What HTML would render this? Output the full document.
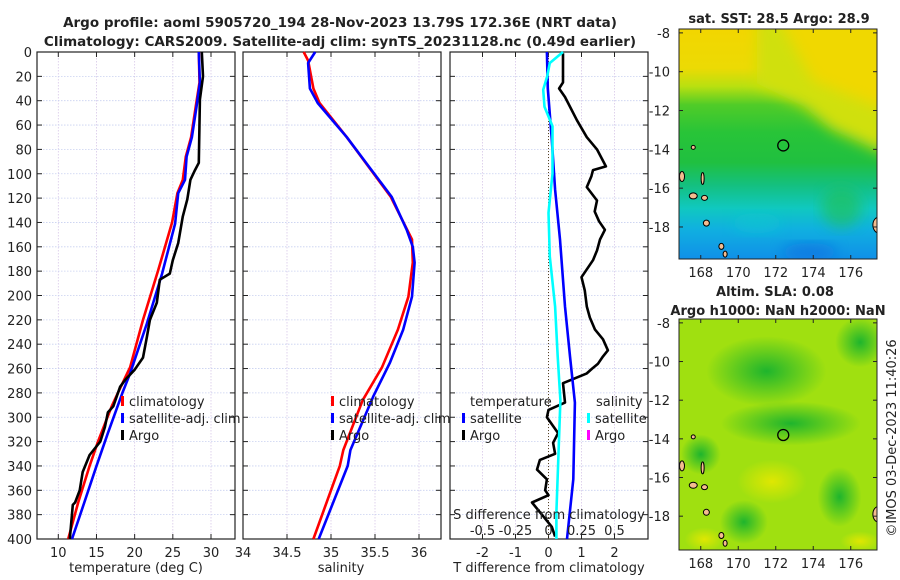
<!DOCTYPE html>
<html><head><meta charset="utf-8"><style>
body{margin:0;background:#fff;}
svg{display:block;font-family:"DejaVu Sans","Liberation Sans",sans-serif;}
</style></head><body>
<svg id="s" width="900" height="580" viewBox="0 0 900 580" xmlns="http://www.w3.org/2000/svg">
<defs>
<linearGradient id="sstg" x1="0" y1="0" x2="0" y2="1">
<stop offset="0" stop-color="#f2d600"/><stop offset="0.17" stop-color="#ecda04"/><stop offset="0.25" stop-color="#b8e010"/><stop offset="0.33" stop-color="#50cc28"/><stop offset="0.45" stop-color="#28c438"/><stop offset="0.58" stop-color="#20c040"/><stop offset="0.68" stop-color="#14c080"/><stop offset="0.78" stop-color="#10c8c0"/><stop offset="0.87" stop-color="#10b0e0"/><stop offset="1" stop-color="#1090e8"/>
</linearGradient>
<filter id="blur" x="-20%" y="-20%" width="140%" height="140%"><feGaussianBlur stdDeviation="7"/></filter>
<clipPath id="c1"><rect x="679" y="29" width="198" height="230"/></clipPath>
<clipPath id="c2"><rect x="679" y="319" width="198" height="231"/></clipPath>
<radialGradient id="g1" cx="0.5" cy="0.5" r="0.5"><stop offset="0" stop-color="#10b030" stop-opacity="0.9"/><stop offset="1" stop-color="#10b030" stop-opacity="0"/></radialGradient>
<radialGradient id="y1" cx="0.5" cy="0.5" r="0.5"><stop offset="0" stop-color="#e6e800" stop-opacity="0.9"/><stop offset="1" stop-color="#e6e800" stop-opacity="0"/></radialGradient>
</defs>
<g id="root"></g>
</svg>
<script>
// ---------- data ----------
const depthTicks=[0,20,40,60,80,100,120,140,160,180,200,220,240,260,280,300,320,340,360,380,400];
const tempTicks=[10,15,20,25,30];
const salTicks=[34,34.5,35,35.5,36];
const salTickLabels=["34","34.5","35","35.5","36"];
const dTTicks=[-2,-1,0,1,2];
const dSTicks=[-0.5,-0.25,0,0.25,0.5];
const dSTickLabels=["-0.5","-0.25","0","0.25","0.5"];
// temperature profiles [depth, value]
const tempClimDepth=[0,25,45,70,86,105,116,140,179,220,259,280,291,320,340,370,400];
const tempClim=[28.4,28.5,28.0,27.4,26.7,26.3,25.6,24.9,23.1,21.1,19.4,17.8,17.0,15.2,14.1,12.6,11.3];
const tempSatDepth=[0,25,45,70,86,105,116,141,182,223,264,280,313,340,370,400];
const tempSat=[28.4,28.55,28.1,27.5,26.8,26.6,25.7,25.3,23.6,21.6,19.4,18.4,16.5,15.0,13.4,11.8];
const tempArgoDepth=[0,20,39,91,97,105,121,135,157,171,182,187,206,220,234,251,261,269,275,291,296,308,320,331,345,360,370,372,400];
const tempArgo=[28.8,28.95,28.55,28.4,27.9,27.3,26.9,26.3,25.7,25.0,24.6,23.3,22.9,22.0,21.6,21.1,20.0,18.8,18.1,17.2,16.5,16.1,15.5,14.1,13.2,12.8,12.2,11.9,11.5];
// salinity profiles
const salClimDepth=[0,7,30,42,70,119,154,173,201,228,259,286,327,340,400];
const salClim=[34.69,34.74,34.8,34.87,35.18,35.68,35.92,35.93,35.88,35.76,35.58,35.36,35.14,35.1,34.8];
const salSatDepth=[0,9,30,42,70,119,146,160,173,201,228,255,283,327,340,400];
const salSat=[34.82,34.74,34.76,34.85,35.18,35.69,35.86,35.93,35.95,35.92,35.82,35.67,35.48,35.22,35.19,34.86];
// differences from climatology
const dTArgoDepth=[1,25,30,37,56,70,80,94,97,102,111,122,131,139,146,154,163,171,185,196,209,218,228,236,245,250,256,260,264,272,288,294,300,313,321,330,335,343,351,360,364,370,378,390,398];
const dTArgo=[0.44,0.44,0.32,0.5,0.86,1.16,1.47,1.74,1.35,1.3,1.16,1.47,1.4,1.53,1.71,1.56,1.47,1.35,1.0,1.1,1.16,1.25,1.41,1.65,1.8,1.65,1.5,1.32,1.16,0.44,0.5,0.0,-0.05,0.29,0.14,0.2,-0.26,-0.35,-0.05,-0.1,0.0,-0.5,-0.26,0.1,0.2];
const dTSatDepth=[0,30,72,113,154,209,250,288,351,400];
const dTSat=[-0.05,-0.02,0.1,0.2,0.35,0.5,0.65,0.8,0.75,0.56];
const dSSatDepth=[0,9,20,31,45,61,80,100,132,168,209,250,286,378,400];
const dSSat=[0.11,0.01,-0.01,-0.04,-0.03,0.03,0.03,0.03,0.0,0.01,0.05,0.07,0.09,0.06,0.06];
// maps
const mapLonTicks=[168,170,172,174,176];
const mapLatTicks=[-8,-10,-12,-14,-16,-18];
const argoLon=[172.4];
const argoLat=[-13.8];

// ---------- helpers ----------
const NS="http://www.w3.org/2000/svg";
const root=document.getElementById('root');
function mk(tag,attrs,parent){const e=document.createElementNS(NS,tag);for(const k in attrs)e.setAttribute(k,attrs[k]);(parent||root).appendChild(e);return e;}
function txt(x,y,s,size,anchor,weight,parent){const e=mk('text',{x:x,y:y,'font-size':size,'text-anchor':anchor||'middle','font-weight':weight||'normal',fill:'#222'},parent);e.textContent=s;return e;}
const Y0=52,Y1=539;
const yD=d=>Y0+(d/400)*(Y1-Y0);
function lin(d0,d1,r0,r1){return v=>r0+(v-d0)/(d1-d0)*(r1-r0);}

function panel(name,x0,x1,xs,ticks,labels,showY){
  const g=mk('g',{});
  
  
  ticks.forEach(t=>{const x=xs(t);if(x>x0+1&&x<x1-1)mk('line',{x1:x,x2:x,y1:Y0,y2:Y1,stroke:'#d8c8e8','stroke-width':0.8,'stroke-dasharray':'1.5,1.5'},g);});
  depthTicks.forEach(d=>{const y=yD(d);mk('line',{x1:x0,x2:x1,y1:y,y2:y,stroke:'#c8d0f0','stroke-width':0.8,'stroke-dasharray':'1.5,1.5'},g);
    mk('line',{x1:x0,x2:x0+5,y1:y,y2:y,stroke:'#222','stroke-width':1},g);mk('line',{x1:x1-5,x2:x1,y1:y,y2:y,stroke:'#222','stroke-width':1},g);
    if(showY){const t=txt(x0-5,y+5,String(d),13,'end',null,g);}});
  ticks.forEach((t,i)=>{const x=xs(t);mk('line',{x1:x,x2:x,y1:Y1,y2:Y1-5,stroke:'#222'},g);mk('line',{x1:x,x2:x,y1:Y0,y2:Y0+5,stroke:'#222'},g);
    const l=txt(x,Y1+18,labels[i],13,'middle',null,g);});
  mk('rect',{x:x0,y:Y0,width:x1-x0,height:Y1-Y0,fill:'none',stroke:'#222','stroke-width':1.2},g);
  return g;
}
function line(g,xs,vals,depths,color,w,name){
  const pts=vals.map((v,i)=>xs(v).toFixed(1)+','+yD(depths[i]).toFixed(1)).join(' ');
  const p=mk('polyline',{points:pts,fill:'none',stroke:color,'stroke-width':w,'stroke-linejoin':'round'},g);
  
  
}
function legendEntry(g,x,y,color,label,name){
  const e=mk('g',{},g);
  
  
  mk('rect',{x:x,y:y-10,width:3,height:10,fill:color},e);
  txt(x+8,y,label,13,'start',null,e);
}

// ---------- panel 1 temperature ----------
const xT=lin(10,30,58.3,211);
const p1=panel('temperature-panel',37,235,xT,tempTicks,tempTicks.map(String),true);
line(p1,xT,tempClim,tempClimDepth,'#f00',2.6,'climatology-temp-line');
line(p1,xT,tempSat,tempSatDepth,'#0000ff',2.6,'satellite-temp-line');
line(p1,xT,tempArgo,tempArgoDepth,'#000',2.6,'argo-temp-line');
legendEntry(p1,121,406,'#f00','climatology','legend-climatology');
legendEntry(p1,121,423,'#00f','satellite-adj. clim','legend-satellite');
legendEntry(p1,121,440,'#000','Argo','legend-argo');
const xl1=txt(136,572,'temperature (deg C)',13);

// ---------- panel 2 salinity ----------
const xS=lin(34,36,243,419);
const p2=panel('salinity-panel',243,441,xS,salTicks,salTickLabels,false);
line(p2,xS,salClim,salClimDepth,'#f00',2.6,'climatology-sal-line');
line(p2,xS,salSat,salSatDepth,'#0000ff',2.6,'satellite-sal-line');
legendEntry(p2,331,406,'#f00','climatology','legend-climatology-sal');
legendEntry(p2,331,423,'#00f','satellite-adj. clim','legend-satellite-sal');
legendEntry(p2,331,440,'#000','Argo','legend-argo-sal');
const xl2=txt(341,572,'salinity',13);

// ---------- panel 3 differences ----------
const xdT=lin(0,1,548.5,581.5);
const xdS=lin(0,0.25,548.5,581.5);
const p3=panel('difference-panel',450,648,xdT,dTTicks,dTTicks.map(String),false);
mk('line',{x1:xdT(0),x2:xdT(0),y1:Y0,y2:Y1,stroke:'#554422','stroke-width':1,'stroke-dasharray':'1,2'},p3);
line(p3,xdT,dTArgo,dTArgoDepth,'#000',2.6,'argo-temp-diff-line');
line(p3,xdT,dTSat,dTSatDepth,'#0000ff',2.6,'satellite-temp-diff-line');
line(p3,xdS,dSSat,dSSatDepth,'#00ffff',2.6,'satellite-sal-diff-line');
txt(470,406,'temperature',13,'start',null,p3);
txt(596,406,'salinity',13,'start',null,p3);
legendEntry(p3,462,423,'#00f','satellite','legend-temp-satellite');
legendEntry(p3,462,440,'#000','Argo','legend-temp-argo');
legendEntry(p3,587,423,'#00ffff','satellite','legend-sal-satellite');
legendEntry(p3,587,440,'#ff00ff','Argo','legend-sal-argo');
const sdt=txt(549,519,'S difference from climatology',13,'middle',null,p3);
dSTicks.forEach((t,i)=>{const l=txt(xdS(t),535,dSTickLabels[i],13,'middle',null,p3);});
const xl3=txt(549,572,'T difference from climatology',13);

// titles
const t1=txt(340,27,'Argo profile: aoml 5905720_194 28-Nov-2023 13.79S 172.36E (NRT data)',13.5,'middle','bold');
const t2=txt(340,46,'Climatology: CARS2009. Satellite-adj clim: synTS_20231128.nc (0.49d earlier)',13.5,'middle','bold');

// ---------- maps ----------
function map(name,top,bottom,latTop,latBot,fill,clip,extra){
  const L=679,R=877;
  const xm=lin(166.84,177.4,L,R), ym=lin(latTop,latBot,top,bottom);
  const g=mk('g',{});
  
  
  const inner=mk('g',{'clip-path':clip},g);
  mk('rect',{x:L,y:top,width:R-L,height:bottom-top,fill:fill},inner);
  extra(inner,xm,ym);
  const isl=[[167.0,-15.4,2.5,5],[167.6,-16.4,4,3],[168.2,-16.5,3,2.5],[168.3,-17.8,3,3],[169.1,-19.0,2.5,3],[169.3,-19.4,2,3],[167.6,-13.9,2,2],[168.1,-15.5,1.5,6],[177.5,-17.9,6,8]];
  isl.forEach(s=>mk('ellipse',{cx:xm(s[0]),cy:ym(s[1]),rx:s[2],ry:s[3],fill:'#f4bc90',stroke:'#000','stroke-width':1},inner));
  argoLon.forEach((lo,i)=>{const c=mk('circle',{cx:xm(lo),cy:ym(argoLat[i]),r:5.5,fill:'none',stroke:'#000','stroke-width':1.3},g);});
  mk('rect',{x:L,y:top,width:R-L,height:bottom-top,fill:'none',stroke:'#222','stroke-width':1},g);
  mapLatTicks.forEach(t=>{const y=ym(t);if(y<top||y>bottom)return;mk('line',{x1:L,x2:L+4,y1:y,y2:y,stroke:'#222'},g);mk('line',{x1:R-4,x2:R,y1:y,y2:y,stroke:'#222'},g);
    const l=txt(L-9,y+5,String(t),13,'end',null,g);});
  mapLonTicks.forEach(t=>{const x=xm(t);mk('line',{x1:x,x2:x,y1:bottom,y2:bottom-4,stroke:'#222'},g);mk('line',{x1:x,x2:x,y1:top,y2:top+4,stroke:'#222'},g);
    const l=txt(x,bottom+18,String(t),13,'middle',null,g);});
}
map('sst-map',29,259,-7.8,-19.65,'url(#sstg)','url(#c1)',(g,xm,ym)=>{
  mk('polygon',{points:`${xm(171)},${ym(-10.6)} ${xm(173.5)},${ym(-11.8)} ${xm(175)},${ym(-13)} ${xm(178)},${ym(-14.3)} ${xm(178)},${ym(-7)} ${xm(171)},${ym(-7)}`,fill:'#d0e008',filter:'url(#blur)'},g);
  mk('polygon',{points:`${xm(172)},${ym(-7)} ${xm(178)},${ym(-7)} ${xm(178)},${ym(-12)} ${xm(174)},${ym(-10.5)}`,fill:'#f0d800',filter:'url(#blur)'},g);
  mk('ellipse',{cx:xm(173.8),cy:ym(-19.3),rx:28,ry:9,fill:'#1070e0',opacity:0.7,filter:'url(#blur)'},g);
  mk('ellipse',{cx:xm(175.5),cy:ym(-17),rx:20,ry:20,fill:'#20c050',opacity:0.6,filter:'url(#blur)'},g);
  mk('ellipse',{cx:xm(171),cy:ym(-17.8),rx:25,ry:10,fill:'#10c8d0',opacity:0.5,filter:'url(#blur)'},g);
});
map('sla-map',319,550,-7.8,-19.75,'#a0e010','url(#c2)',(g,xm,ym)=>{
  [[171.5,-10.5,60,35],[172.8,-13.2,70,22],[175.4,-17,22,30],[170.3,-18.3,24,22],[168,-14.8,20,20],[176.5,-9,25,25]].forEach(c=>mk('ellipse',{cx:xm(c[0]),cy:ym(c[1]),rx:c[2],ry:c[3],fill:'url(#g1)'},g));
  [[171.8,-16.2,35,22],[168.2,-19.2,20,12],[176.5,-19.3,20,10]].forEach(c=>mk('ellipse',{cx:xm(c[0]),cy:ym(c[1]),rx:c[2],ry:c[3],fill:'url(#y1)'},g));
});
const m1=txt(779,23,'sat. SST: 28.5 Argo: 28.9',13,'middle','bold');
const m2=txt(775,296,'Altim. SLA: 0.08',13,'middle','bold');
const m3=txt(778,315,'Argo h1000: NaN h2000: NaN',13,'middle','bold');
const cp=txt(0,0,'©IMOS 03-Dec-2023 11:40:26',13,'middle');
cp.setAttribute('transform','translate(896,438) rotate(-90)');


</script>
</body></html>
